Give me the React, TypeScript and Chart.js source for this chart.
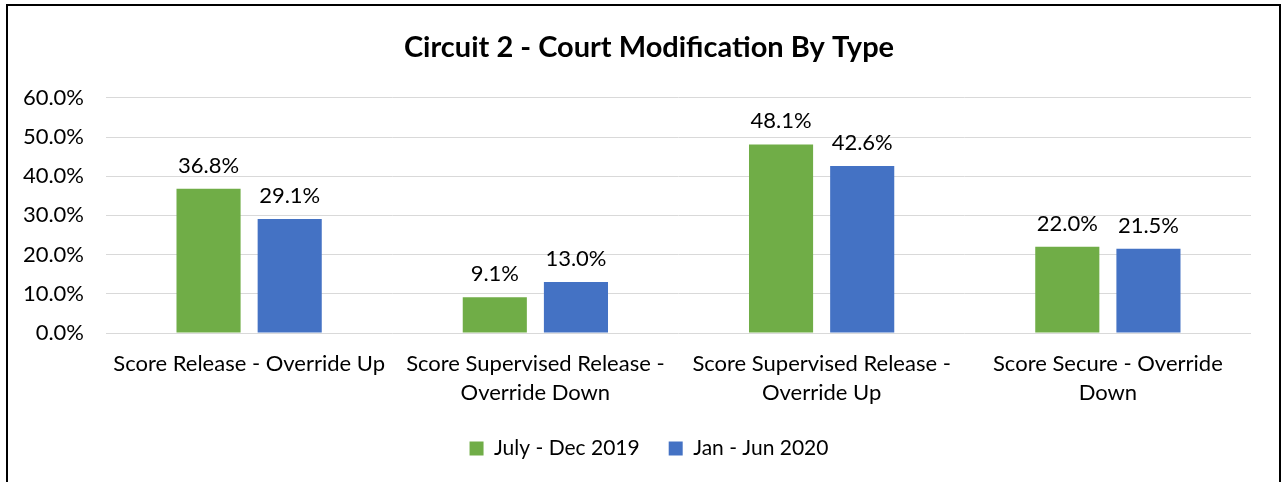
import React, { useEffect, useRef } from "react";
import { Chart, registerables } from "chart.js";

Chart.register(...registerables);

const categories: string[][] = [
  ["Score Release - Override Up"],
  ["Score Supervised Release -", "Override Down"],
  ["Score Supervised Release -", "Override Up"],
  ["Score Secure - Override", "Down"],
];
const seriesNames = ["July - Dec 2019", "Jan - Jun 2020"];
const julyDec2019 = [36.8, 9.1, 48.1, 22.0];
const janJun2020 = [29.1, 13.0, 42.6, 21.5];
const seriesColors = ["#70AD47", "#4472C4"];
const yMax = 60;
const yStep = 10;
const title = "Circuit 2 - Court Modification By Type";

const FONT = "Lato, 'Open Sans', sans-serif";

const valueLabels = {
  id: "valueLabels",
  afterDatasetsDraw(chart: any) {
    const ctx = chart.ctx;
    ctx.save();
    ctx.font = `22px ${FONT}`;
    ctx.fillStyle = "#000";
    ctx.textAlign = "center";
    ctx.textBaseline = "alphabetic";
    chart.data.datasets.forEach((ds: any, i: number) => {
      const meta = chart.getDatasetMeta(i);
      meta.data.forEach((bar: any, j: number) => {
        ctx.fillText(Number(ds.data[j]).toFixed(1) + "%", bar.x, bar.y - 16);
      });
    });
    ctx.restore();
  },
};

export default function App() {
  const ref = useRef<HTMLCanvasElement>(null);
  useEffect(() => {
    if (!ref.current) return;
    const chart = new Chart(ref.current, {
      type: "bar",
      data: {
        labels: categories,
        datasets: [
          {
            label: seriesNames[0],
            data: julyDec2019,
            backgroundColor: seriesColors[0],
            categoryPercentage: 0.567,
            barPercentage: 0.79,
          },
          {
            label: seriesNames[1],
            data: janJun2020,
            backgroundColor: seriesColors[1],
            categoryPercentage: 0.567,
            barPercentage: 0.79,
          },
        ],
      },
      options: {
        responsive: false,
        animation: false,
        devicePixelRatio: 1,
        layout: { padding: { left: 0, right: -16, top: 0, bottom: 13 } },
        plugins: {
          title: {
            display: true,
            text: title,
            color: "#000",
            font: { family: FONT, size: 29, weight: "bold" },
            padding: { top: 30, bottom: 33 },
          },
          legend: {
            position: "bottom",
            labels: {
              color: "#000",
              font: { family: FONT, size: 21 },
              boxWidth: 14,
              boxHeight: 14,
              padding: 29,
            },
          },
          tooltip: { enabled: false },
        },
        scales: {
          x: {
            afterFit: (s: any) => {
              s.height = 76;
            },
            grid: { display: false, drawTicks: false },
            border: { display: false },
            ticks: {
              color: "#000",
              font: { family: FONT, size: 22, lineHeight: 1.32 },
              padding: 16,
              maxRotation: 0,
              autoSkip: false,
            },
          },
          y: {
            min: 0,
            max: yMax,
            afterFit: (s: any) => {
              s.width = 106;
            },
            grid: { color: "#D9D9D9", lineWidth: 1, drawTicks: false },
            border: { display: false },
            ticks: {
              stepSize: yStep,
              color: "#000",
              font: { family: FONT, size: 22 },
              padding: 22,
              callback: (v: any) => Number(v).toFixed(1) + "%",
            },
          },
          yRightSpacer: {
            type: "linear",
            position: "right",
            display: true,
            afterFit: (s: any) => {
              s.width = 47;
            },
            grid: { display: false, drawTicks: false },
            border: { display: false },
            ticks: { display: false },
          },
        },
      },
      plugins: [valueLabels],
    });
    return () => chart.destroy();
  }, []);
  return (
    <div style={{ position: "fixed", left: 0, top: 0, width: 1282, height: 482, background: "#fff" }}>
      <canvas ref={ref} width={1282} height={482} style={{ position: "absolute", left: 0, top: 0 }} />
      <div
        style={{
          position: "absolute",
          left: 6,
          top: 4,
          width: 1275,
          height: 500,
          boxSizing: "border-box",
          border: "2px solid #000",
          pointerEvents: "none",
        }}
      />
    </div>
  );
}
